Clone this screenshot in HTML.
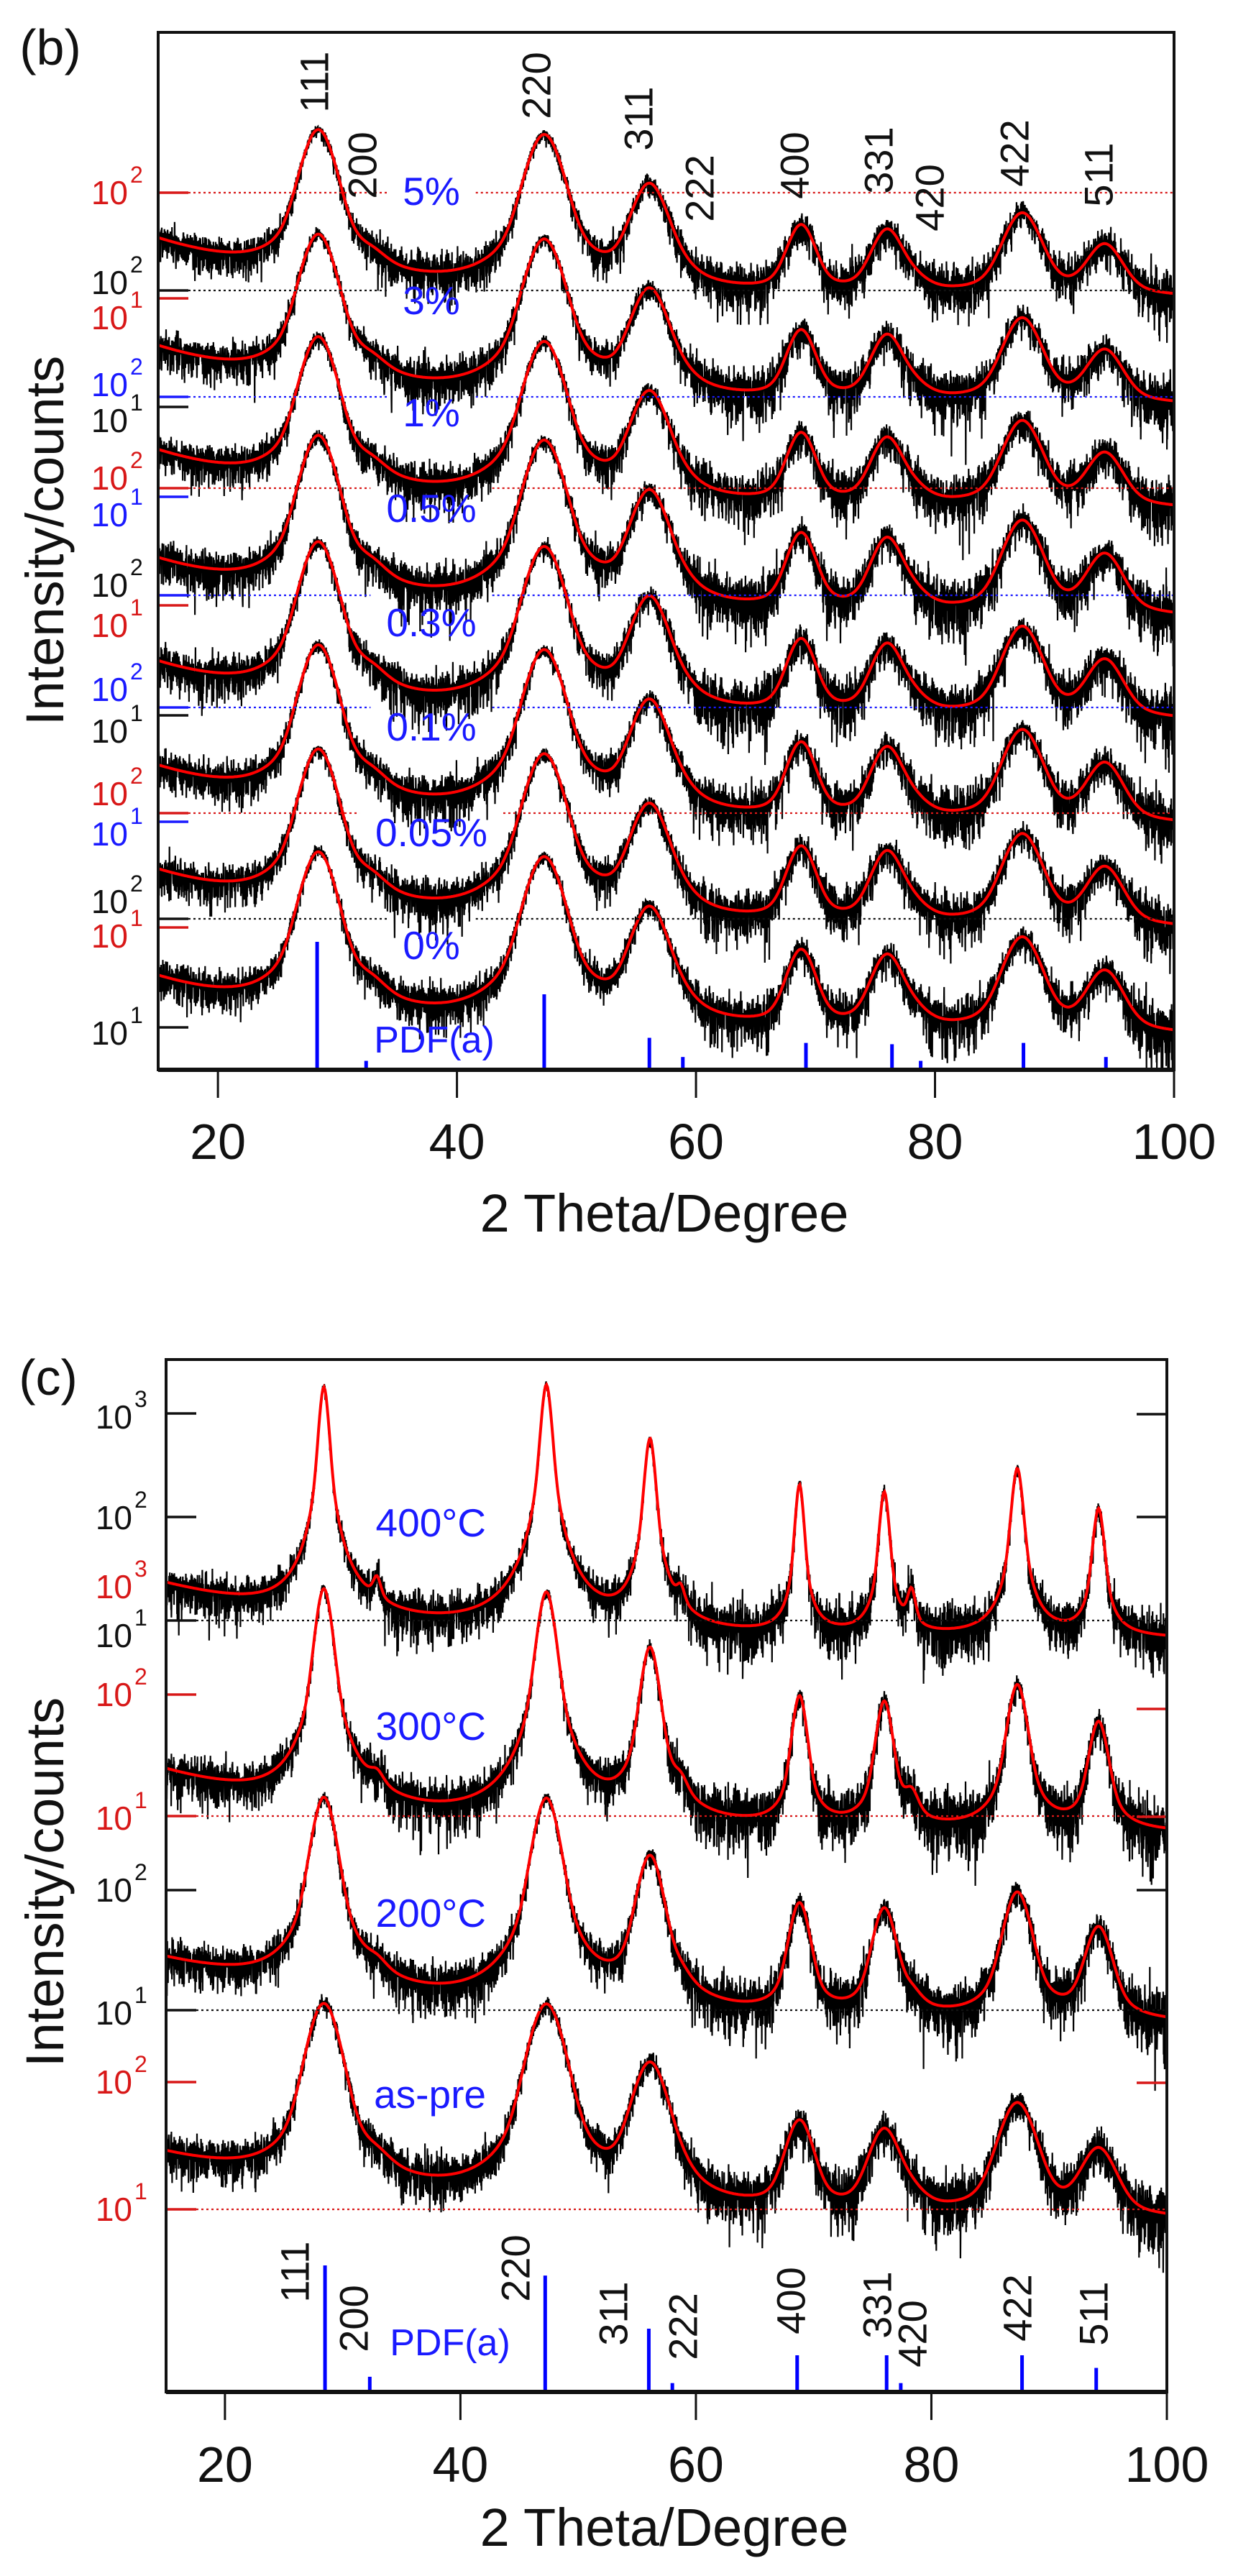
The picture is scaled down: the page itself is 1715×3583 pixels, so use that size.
<!DOCTYPE html>
<html><head><meta charset="utf-8">
<style>
html,body{margin:0;padding:0;background:#fff;}
svg{display:block;font-family:"Liberation Sans",Arial,sans-serif;}
</style></head>
<body>
<svg id="fig" width="1715" height="3583" viewBox="0 0 1715 3583" xmlns="http://www.w3.org/2000/svg">
<defs>
<clipPath id="clipB"><rect x="222" y="47" width="1409" height="1439"/></clipPath>
<clipPath id="clipC"><rect x="233" y="1893" width="1388" height="1432"/></clipPath>
</defs>
<rect x="0" y="0" width="1715" height="3583" fill="#fff"/>
<g id="layerB" clip-path="url(#clipB)"></g>
<g id="layerC" clip-path="url(#clipC)"></g>
<g id="axes"></g>
<text x="70" y="90" font-size="70" text-anchor="middle" fill="#111">(b)</text>
<text x="67" y="1940" font-size="70" text-anchor="middle" fill="#111">(c)</text>
<text transform="translate(88,752) rotate(-90)" font-size="74" text-anchor="middle" fill="#111">Intensity/counts</text>
<text transform="translate(88,2618) rotate(-90)" font-size="74" text-anchor="middle" fill="#111">Intensity/counts</text>
<text x="924" y="1713" font-size="74" text-anchor="middle" fill="#111">2 Theta/Degree</text>
<text x="924" y="3541" font-size="74" text-anchor="middle" fill="#111">2 Theta/Degree</text>
</svg>
<script>
// ---------------- data ----------------
const peakPos = [28.4, 32.9, 47.3, 56.1, 58.7, 68.8, 76.0, 78.3, 87.3, 94.2];
const hklLabels = ['111','200','220','311','222','400','331','420','422','511'];
const peakFwhm = [2.6, 2.6, 2.8, 2.8, 2.6, 2.3, 2.6, 2.6, 3.0, 3.0];

// panel (b): base pattern + per-sample multipliers
const bBaseAmp = [405, 5, 367, 118, 3, 42, 37, 3, 59, 24];
const bBg = [20, 8, 8]; // b0, b1, tau
const bSamples = ['5%','3%','1%','0.5%','0.3%','0.1%','0.05%','0%'];
const bPeakMul = [0.91, 0.79, 0.86, 0.74, 0.75, 0.91, 0.94, 1.0];
const bBgMul   = [1.30, 1.05, 1.10, 0.76, 0.83, 0.98, 1.02, 1.0];

// panel (c): annealing series
const cSamples = ['400°C','300°C','200°C','as-pre'];
const cAmp400 = [1790, 10, 1890, 565, 7, 198, 168, 11, 288, 114];
const cAmp300 = [815, 5, 768, 256, 5, 95, 85, 6, 121, 55];
const cAmp200 = [580, 4, 575, 183, 3, 69, 62, 3, 88, 41];
const cAmpAsPre = [400, 4, 400, 130, 3, 40, 33, 3, 60, 21];
const cWidthScale = [0.28, 0.5, 0.72, 1.0];
const cEta = [0.6, 0.55, 0.5, 0.45];
const cBg0 = [16, 17, 19, 19];
const cBg1 = [6.5, 7, 7.5, 8];
const cBgTau = [10, 10, 12, 12];

// PDF(a) reference sticks (relative intensity)
const pdfPosB = [28.3, 32.4, 47.3, 56.1, 58.9, 69.2, 76.4, 78.8, 87.4, 94.3];
const pdfRelB = [100, 7, 59, 25, 10, 21, 20, 7, 21, 10];
const pdfPosC = [28.5, 32.3, 47.2, 56.0, 58.0, 68.6, 76.2, 77.4, 87.7, 94.0];
const pdfRelC = [100, 12, 92, 50, 7, 29, 29, 7, 29, 19];

const xTicks = [20, 40, 60, 80, 100];

// ---------------- layout ----------------
const NS = 'http://www.w3.org/2000/svg';
const svg = document.getElementById('fig');
const layerB = document.getElementById('layerB');
const layerC = document.getElementById('layerC');
const axes = document.getElementById('axes');
const RED = '#ff0000', BLUE = '#1a1aff', LRED = '#d81818';
const colorMap = {red: LRED, black: '#111', blue: BLUE};

const PB = {l: 220, r: 1633, t: 45, b: 1488};
const PC = {l: 231, r: 1623, t: 1891, b: 3327};
const xB = t => PB.l + (t - 15) / 85 * (PB.r - PB.l);
const xC = t => PC.l + (t - 15) / 85 * (PC.r - PC.l);

const bRef2 = [268, 404, 552, 679, 828, 984, 1131, 1278];
const bDecade = 150;
const bDashColor = ['red','black','blue','red','blue','blue','red','black'];
const bLabelY = [266, 418, 574, 707, 866, 1011, 1158, 1315];

const cRef1 = [2254, 2526, 2796, 3073];
const cDecade = [144, 165, 167, 177];
const cDashColor = ['black','red','black','red'];
const cLabelY = [2118, 2401, 2661, 2913];

function mk(tag, attrs, parent) {
  const el = document.createElementNS(NS, tag);
  for (const k in attrs) el.setAttribute(k, attrs[k]);
  (parent || svg).appendChild(el);
  return el;
}
function pv(t, c, f, eta) {
  const u = (t - c) / (f / 2);
  return eta / (1 + u * u) + (1 - eta) * Math.exp(-0.6931 * u * u);
}
function model(t, amps, wScale, eta, b0, b1, tau) {
  let s = b0 * Math.exp(-(t - 15) / tau) + b1;
  for (let k = 0; k < peakPos.length; k++) s += amps[k] * pv(t, peakPos[k], peakFwhm[k] * wScale, eta);
  return s;
}
function rng(seed) {
  return function () {
    seed |= 0; seed = seed + 0x6D2B79F5 | 0;
    let t = Math.imul(seed ^ seed >>> 15, 1 | seed);
    t = t + Math.imul(t ^ t >>> 7, 61 | t) ^ t;
    return ((t ^ t >>> 14) >>> 0) / 4294967296;
  };
}
function gauss(r) {
  const u = Math.max(1e-9, r()), v = r();
  return Math.sqrt(-2 * Math.log(u)) * Math.cos(2 * Math.PI * v);
}
// draws observed (noise texture around fit) + fit
function drawSeries(layer, xf, yf, fitFn, seed, name) {
  const r = rng(seed);
  let dObs = '', dFit = '';
  for (let i = 0; i <= 5667; i++) {
    const t = 15 + i * 0.015;
    const f = fitFn(t);
    const sd = 0.36 / Math.sqrt(f) + 0.012;
    const g = gauss(r);
    let o = f * Math.pow(10, (g < 0 ? g * 1.4 : g * 0.8) * sd);
    if (o < 1) o = 1;
    dObs += (i ? 'L' : 'M') + xf(t).toFixed(1) + ' ' + yf(o).toFixed(1);
    if (i % 6 === 0) dFit += (i ? 'L' : 'M') + xf(t).toFixed(1) + ' ' + yf(f).toFixed(1);
  }
  const obs = mk('path', {d: dObs, fill: 'none', stroke: '#000', 'stroke-width': 2.2}, layer);
  
  
  return dFit;
}

// ---------------- panel (b) ----------------
const fitsB = [];
bSamples.forEach((s, i) => {
  const amps = bBaseAmp.map(a => a * bPeakMul[i]);
  const fitFn = t => model(t, amps, 1.0, 0.45, bBg[0] * bBgMul[i], bBg[1] * bBgMul[i], bBg[2]);
  const yf = v => bRef2[i] - (Math.log10(v) - 2) * bDecade;
  fitsB.push(drawSeries(layerB, xB, yf, fitFn, 101 + i, 'series-b-' + s.replace('%', 'pct').replace('.', 'p')));
});
fitsB.forEach((d, i) => {
  const p = mk('path', {d: d, fill: 'none', stroke: RED, 'stroke-width': 4}, layerB);
  
  
});
pdfPosB.forEach((t, k) => {
  const ln = mk('line', {x1: xB(t), x2: xB(t), y1: PB.b, y2: PB.b - pdfRelB[k] * 1.78, stroke: '#0000ff', 'stroke-width': 5}, axes);
  
  
});

// ---------------- panel (c) ----------------
const cAmps = [cAmp400, cAmp300, cAmp200, cAmpAsPre];
const fitsC = [];
cSamples.forEach((s, i) => {
  const fitFn = t => model(t, cAmps[i], cWidthScale[i], cEta[i], cBg0[i], cBg1[i], cBgTau[i]);
  const yf = v => cRef1[i] - (Math.log10(v) - 1) * cDecade[i];
  fitsC.push(drawSeries(layerC, xC, yf, fitFn, 501 + i, 'series-c-' + s.replace('°', '')));
});
fitsC.forEach((d, i) => {
  const p = mk('path', {d: d, fill: 'none', stroke: RED, 'stroke-width': 4}, layerC);
  
  
});
pdfPosC.forEach((t, k) => {
  const ln = mk('line', {x1: xC(t), x2: xC(t), y1: PC.b, y2: PC.b - pdfRelC[k] * 1.76, stroke: '#0000ff', 'stroke-width': 5}, axes);
  
  
});

// ---------------- labels & dashed reference lines ----------------
function dashedWithGap(y, x0, x1, gapA, gapB, color, name) {
  const segs = gapA == null ? [[x0, x1]] : [[x0, gapA], [gapB, x1]];
  segs.forEach(([a, b]) => {
    const ln = mk('line', {x1: a, x2: b, y1: y, y2: y, stroke: color, 'stroke-width': 2.2, 'stroke-dasharray': '3 4'}, axes);
    
    
  });
}
bSamples.forEach((s, i) => {
  const tx = mk('text', {x: 600, y: bLabelY[i], 'font-size': 55, fill: BLUE, 'text-anchor': 'middle', 'dominant-baseline': 'central'}, axes);
  tx.textContent = s;
  
  
  const w = tx.getComputedTextLength();
  dashedWithGap(bRef2[i], PB.l + 42, PB.r, 600 - w / 2 - 22, 600 + w / 2 + 22, colorMap[bDashColor[i]], 'reference-line-b');
});
cSamples.forEach((s, i) => {
  const tx = mk('text', {x: 676, y: cLabelY[i], 'font-size': 55, fill: BLUE, 'text-anchor': 'end', 'dominant-baseline': 'central'}, axes);
  tx.textContent = s;
  
  
  dashedWithGap(cRef1[i], PC.l + 42, PC.r, null, null, colorMap[cDashColor[i]], 'reference-line-c');
});
[[604, 1447], [626, 3259]].forEach((p, i) => {
  const tx = mk('text', {x: p[0], y: p[1], 'font-size': 52, fill: BLUE, 'text-anchor': 'middle', 'dominant-baseline': 'central'}, axes);
  tx.textContent = 'PDF(a)';
  
  
});

// hkl labels (annotation positions)
const hklPosB = [[437,114],[504,230],[746,119],[888,165],[973,262],[1105,230],[1222,223],[1293,275],[1411,213],[1528,243]];
const hklPosC = [[410,3160],[492,3225],[717,3155],[853,3218],[950,3236],[1100,3200],[1220,3206],[1269,3246],[1415,3210],[1521,3218]];
[hklPosB, hklPosC].forEach((arr, pi) => {
  arr.forEach((p, k) => {
    const tx = mk('text', {transform: 'translate(' + p[0] + ',' + p[1] + ') rotate(-90)', 'font-size': 56, fill: '#111', 'text-anchor': 'middle', 'dominant-baseline': 'central'}, axes);
    tx.textContent = hklLabels[k];
    
    
  });
});

// ---------------- y tick marks & labels ----------------
const bYTicks = [[268,'red'],[404,'black'],[415,'red'],[552,'blue'],[566,'black'],[679,'red'],[691,'blue'],[828,'blue'],[842,'red'],[984,'blue'],[995,'black'],[1131,'red'],[1143,'blue'],[1278,'black'],[1290,'red'],[1429,'black']];
const bYLabels = [['2','red',268],['2','black',393],['1','red',442],['2','blue',535],['1','black',585],['2','red',665],['1','blue',716],['2','black',814],['1','red',870],['2','blue',959],['1','black',1017],['2','red',1104],['1','blue',1160],['2','black',1254],['1','red',1302],['1','black',1437]];
const cYTicks = [[1966,'black'],[2110,'black'],[2254,'black'],[2357,'red'],[2526,'red'],[2629,'black'],[2796,'black'],[2896,'red'],[3073,'red']];
const cYLabels = [['3','black',1971],['2','black',2111],['3','red',2207],['1','black',2275],['2','red',2357],['1','red',2529],['2','black',2629],['1','black',2800],['2','red',2896],['1','red',3073]];
const cRightTicks = [[1967,'black'],[2110,'black'],[2377,'red'],[2527,'red'],[2629,'black'],[2897,'red']];

function yTick(x, dir, y, c, name) {
  const ln = mk('line', {x1: x, x2: x + dir * 42, y1: y, y2: y, stroke: colorMap[c], 'stroke-width': 3.5}, axes);
  
  
}
function yLabel(xr, e, c, y, name) {
  const t = mk('text', {x: xr, y: y + 16, 'font-size': 46, fill: colorMap[c], 'text-anchor': 'end'}, axes);
  t.textContent = '10';
  
  
  const s = mk('text', {x: xr + 3, y: y - 14, 'font-size': 32, fill: colorMap[c], 'text-anchor': 'start'}, axes);
  s.textContent = e;
  
  
}
bYTicks.forEach(tk => yTick(PB.l, 1, tk[0], tk[1], 'y-tick-b'));
bYLabels.forEach(l => yLabel(178, l[0], l[1], l[2], 'y-tick-label-b'));
cYTicks.forEach(tk => yTick(PC.l, 1, tk[0], tk[1], 'y-tick-c'));
cRightTicks.forEach(tk => yTick(PC.r, -1, tk[0], tk[1], 'y-tick-c-right'));
cYLabels.forEach(l => yLabel(184, l[0], l[1], l[2], 'y-tick-label-c'));

// ---------------- frames & x axes ----------------
[[PB, xB, 1588, 'b'], [PC, xC, 3428, 'c']].forEach(([P, xf, ly, n]) => {
  const fr = mk('rect', {x: P.l, y: P.t, width: P.r - P.l, height: P.b - P.t, fill: 'none', stroke: '#111', 'stroke-width': 4}, axes);
  
  
  const ax = mk('line', {x1: P.l, x2: P.r, y1: P.b, y2: P.b, stroke: '#111', 'stroke-width': 6}, axes);
  
  
  xTicks.forEach(v => {
    const tk = mk('line', {x1: xf(v), x2: xf(v), y1: P.b, y2: P.b + 39, stroke: '#111', 'stroke-width': 3}, axes);
    
    
    const tl = mk('text', {x: xf(v), y: ly, 'font-size': 70, fill: '#111', 'text-anchor': 'middle', 'dominant-baseline': 'central'}, axes);
    tl.textContent = String(v);
    
    
  });
});
</script>
</body></html>
